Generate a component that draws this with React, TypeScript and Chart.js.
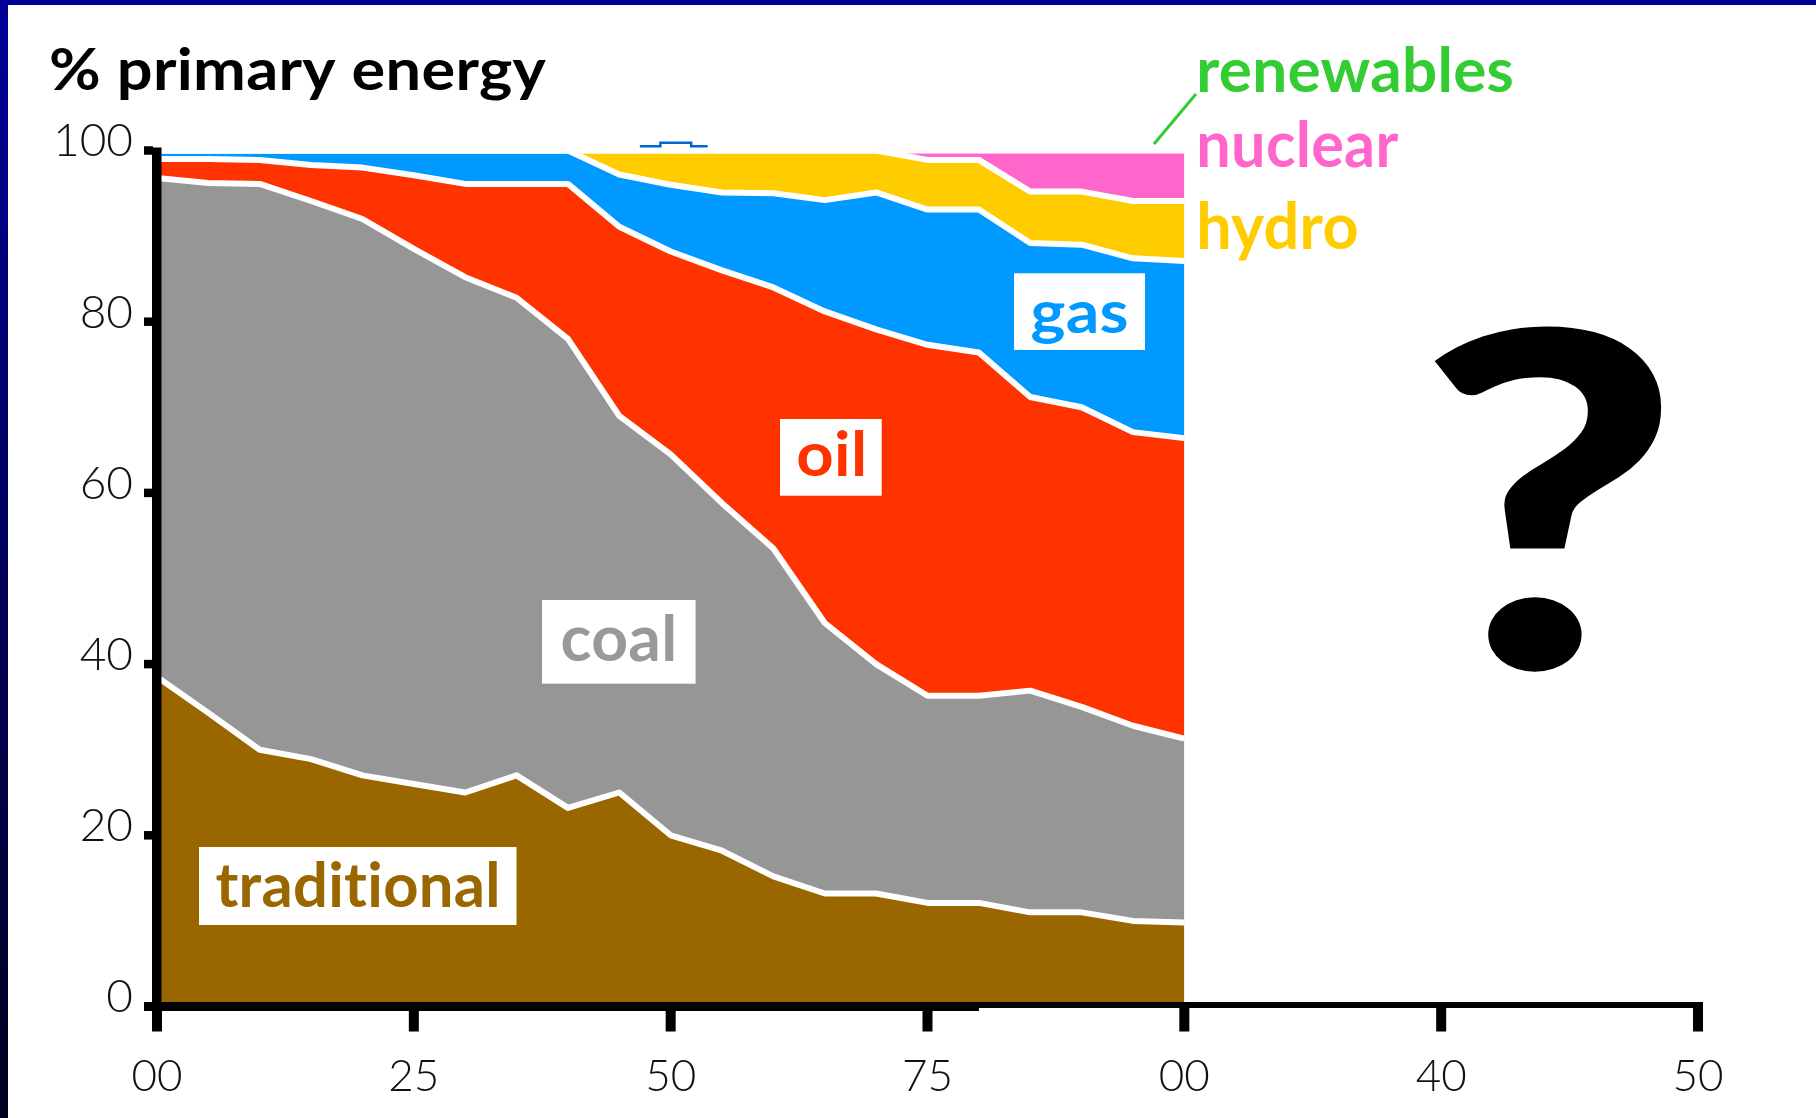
import React, { useEffect, useRef } from 'react';
import { Chart, registerables } from 'chart.js';

Chart.register(...registerables);

// ---- data (shares of primary energy, %) ----
const YEARS = [1900, 1905, 1910, 1915, 1920, 1925, 1930, 1935, 1940, 1945, 1950, 1955, 1960, 1965, 1970, 1975, 1980, 1985, 1990, 1995, 2000];
const TRADITIONAL = [38.5, 34.3, 30, 28.9, 27, 26, 25, 27, 23.2, 25, 20, 18.2, 15.2, 13.2, 13.2, 12.1, 12.1, 11, 11, 10, 9.8];
const COAL = [58.3, 61.9, 66.1, 65.2, 65, 62.5, 60.2, 55.8, 54.8, 44, 44.5, 40.6, 38.3, 31.6, 26.8, 24.2, 24.2, 25.9, 24, 22.8, 21.5];
const OIL = [2.2, 2.8, 2.8, 4.2, 6, 8.6, 10.9, 13.3, 18.1, 22.1, 23.7, 27.2, 30.5, 36.4, 39.1, 41, 40.1, 34.3, 35, 34.3, 35.1];
const GAS = [1, 1, 1.1, 1.7, 2, 2.9, 3.9, 3.9, 3.9, 6.1, 7.8, 9.1, 11, 13, 16, 15.8, 16.7, 18, 19, 20.3, 20.7];
const HYDRO = [0, 0, 0, 0, 0, 0, 0, 0, 0, 2.8, 4, 4.9, 5, 5.8, 4.9, 5.8, 5.8, 6, 6.2, 6.7, 7];
const NUCLEAR = [0, 0, 0, 0, 0, 0, 0, 0, 0, 0, 0, 0, 0, 0, 0, 1.1, 1.1, 4.8, 4.8, 5.9, 5.9];

// small stray mark above the plot in the original picture
const STRAY_X = [1947, 1949, 1952, 1953.6];
const STRAY_Y = [100.5, 100.9, 100.5, 100.5];

// axes
const TICK_YEARS = [1900, 1925, 1950, 1975, 2000, 2025, 2050];
const X_TICK_LABELS = ['00', '25', '50', '75', '00', '40', '50'];
const Y_TICKS = [0, 20, 40, 60, 80, 100];

const SERIES_NAMES = ['traditional', 'coal', 'oil', 'gas', 'hydro', 'nuclear'];
const SERIES_VALUES = [TRADITIONAL, COAL, OIL, GAS, HYDRO, NUCLEAR];
const SERIES_COLORS = ['#996600', '#969696', '#ff3300', '#0099ff', '#ffcc00', '#ff66cc'];

const FONT = "Lato, 'Open Sans', 'DejaVu Sans', sans-serif";

type Box = [number, number, number, number];

function fitText(ctx: CanvasRenderingContext2D, text: string, weight: string, color: string, b: Box) {
  ctx.save();
  ctx.font = `${weight} 100px ${FONT}`;
  ctx.textAlign = 'left';
  ctx.textBaseline = 'alphabetic';
  // a tiny letter spacing keeps letters separate (no "ti" ligature)
  (ctx as any).letterSpacing = '0.5px';
  const m = ctx.measureText(text);
  const w = m.actualBoundingBoxLeft + m.actualBoundingBoxRight;
  const h = m.actualBoundingBoxAscent + m.actualBoundingBoxDescent;
  const sx = (b[2] - b[0]) / w;
  const sy = (b[3] - b[1]) / h;
  ctx.translate(b[0] + m.actualBoundingBoxLeft * sx, b[1] + m.actualBoundingBoxAscent * sy);
  ctx.scale(sx, sy);
  ctx.fillStyle = color;
  ctx.fillText(text, 0, 0);
  ctx.restore();
}

const framePlugin = {
  id: 'frame',
  beforeDraw(chart: any) {
    const ctx = chart.ctx as CanvasRenderingContext2D;
    ctx.save();
    ctx.fillStyle = '#ffffff';
    ctx.fillRect(0, 0, chart.width, chart.height);
    ctx.restore();
  },
  afterDatasetsDraw(chart: any) {
    const ctx = chart.ctx as CanvasRenderingContext2D;
    const xs = chart.scales.x;
    const ys = chart.scales.y;
    const x0 = xs.getPixelForValue(1900);
    const y0 = ys.getPixelForValue(0);
    const yTop = ys.getPixelForValue(100);
    ctx.save();
    ctx.fillStyle = '#000000';
    // y axis line and ticks
    ctx.fillRect(x0 - 5, yTop - 3, 9.5, y0 + 4.5 - (yTop - 3));
    Y_TICKS.forEach((v) => {
      const py = ys.getPixelForValue(v);
      ctx.fillRect(x0 - 13, py - 4.25, 9, 8.5);
    });
    // x axis line (heavier on the left part)
    const xThickEnd = xs.getPixelForValue(1980);
    const xEnd = xs.getPixelForValue(2050) + 5;
    ctx.fillRect(x0 - 13, y0 - 4.5, xThickEnd - (x0 - 13), 9);
    ctx.fillRect(x0, y0 - 4.5, xEnd - x0, 6);
    TICK_YEARS.forEach((yr) => {
      const px = xs.getPixelForValue(yr);
      ctx.fillRect(px - 5, y0, 10, 25);
    });
    ctx.restore();
  },
  afterDraw(chart: any) {
    const ctx = chart.ctx as CanvasRenderingContext2D;
    const W = chart.width;
    const H = chart.height;
    ctx.save();
    // frame
    ctx.fillStyle = '#000099';
    ctx.fillRect(0, 0, W, 5);
    const g = ctx.createLinearGradient(0, 0, 0, H);
    g.addColorStop(0, '#000099');
    g.addColorStop(1, '#000020');
    ctx.fillStyle = g;
    ctx.fillRect(0, 0, 8, H);

    // title
    fitText(ctx, '% primary energy', '700', '#000000', [51, 47, 546, 100]);

    // legend labels at right
    fitText(ctx, 'renewables', '700', '#33cc33', [1200, 47, 1512, 93]);
    fitText(ctx, 'nuclear', '700', '#ff66cc', [1200, 121, 1398, 168]);
    fitText(ctx, 'hydro', '700', '#ffcc00', [1200, 201, 1357, 260]);
    ctx.strokeStyle = '#33cc33';
    ctx.lineWidth = 3;
    ctx.beginPath();
    ctx.moveTo(1154, 144);
    ctx.lineTo(1196, 94);
    ctx.stroke();

    // boxed labels
    const boxed: Array<[string, string, Box, Box]> = [
      ['traditional', '#996600', [199, 847, 516.5, 925], [216, 862, 497, 908]],
      ['coal', '#999999', [542, 600, 695.6, 683.7], [562.4, 615, 673.4, 661.7]],
      ['oil', '#ff3300', [780, 419, 881.7, 495.7], [798.3, 431, 863.3, 476.7]],
      ['gas', '#0099ff', [1014, 273.3, 1145, 350], [1031.7, 301.7, 1126.7, 343.3]],
    ];
    boxed.forEach(([t, c, box, tb]) => {
      ctx.fillStyle = '#ffffff';
      ctx.fillRect(box[0], box[1], box[2] - box[0], box[3] - box[1]);
      fitText(ctx, t, '700', c, tb);
    });

    // big question mark
    fitText(ctx, '?', '900', '#000000', [1433, 328, 1662, 673]);
    ctx.restore();
  },
};

export default function App() {
  const ref = useRef<HTMLCanvasElement | null>(null);

  useEffect(() => {
    document.body.style.margin = '0';
    document.body.style.overflow = 'hidden';
    const canvas = ref.current;
    if (!canvas) return;

    const datasets: any[] = SERIES_NAMES.map((name, i) => ({
      label: name,
      data: YEARS.map((yr, j) => ({ x: yr, y: SERIES_VALUES[i][j] })),
      backgroundColor: SERIES_COLORS[i],
      borderColor: '#ffffff',
      borderWidth: 6,
      borderJoinStyle: 'round',
      fill: i === 0 ? 'origin' : '-1',
      pointRadius: 0,
      tension: 0,
      stack: 'energy',
    }));
    datasets.push({
      label: 'stray',
      data: STRAY_X.map((x, j) => ({ x, y: STRAY_Y[j] })),
      borderColor: '#0066cc',
      borderWidth: 2.5,
      fill: false,
      pointRadius: 0,
      stepped: 'before',
      clip: false,
      stack: 'stray',
    });

    const chart = new Chart(canvas, {
      type: 'line',
      data: { datasets },
      plugins: [framePlugin],
      options: {
        animation: false,
        responsive: false,
        devicePixelRatio: 1,
        layout: { padding: { left: 0, right: 118, top: 150.5, bottom: 0 } },
        plugins: {
          legend: { display: false },
          tooltip: { enabled: false },
          filler: { drawTime: 'beforeDatasetsDraw', propagate: false },
        },
        scales: {
          x: {
            type: 'linear',
            min: 1900,
            max: 2050,
            grid: { display: false, drawTicks: false },
            border: { display: false },
            afterFit: (s: any) => { s.height = 1118 - 1006.5; },
            afterBuildTicks: (s: any) => { s.ticks = TICK_YEARS.map((v) => ({ value: v })); },
            ticks: {
              autoSkip: false,
              maxRotation: 0,
              padding: 48,
              color: '#111111',
              font: { family: FONT, size: 44, weight: '300', lineHeight: 1 },
              callback: (v: any) => {
                const i = TICK_YEARS.indexOf(Number(v));
                return i >= 0 ? X_TICK_LABELS[i] : '';
              },
            },
          },
          y: {
            type: 'linear',
            stacked: true,
            min: 0,
            max: 100,
            grid: { display: false, drawTicks: false },
            border: { display: false },
            afterFit: (s: any) => { s.width = 157; },
            afterBuildTicks: (s: any) => { s.ticks = Y_TICKS.map((v) => ({ value: v })); },
            ticks: {
              autoSkip: false,
              padding: 24,
              labelOffset: -9,
              color: '#111111',
              font: { family: FONT, size: 46, weight: '300', lineHeight: 1 },
            },
          },
        },
      } as any,
    });

    return () => chart.destroy();
  }, []);

  return (
    <div style={{ width: 1816, height: 1118, overflow: 'hidden' }}>
      <canvas ref={ref} width={1816} height={1118} style={{ display: 'block', width: 1816, height: 1118 }} />
    </div>
  );
}
